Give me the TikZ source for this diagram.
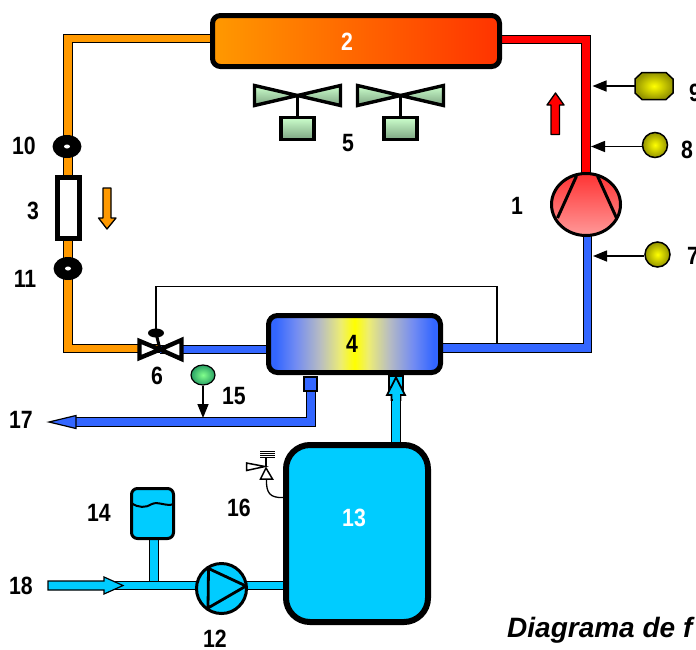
\documentclass[tikz,border=0pt]{standalone}
\usepackage{fontspec}
\setmainfont{Liberation Sans}
\usetikzlibrary{arrows.meta,shapes.geometric}
\pgfdeclarelayer{back}
\pgfsetlayers{back,main}
\definecolor{hotred}{RGB}{255,0,0}
\definecolor{warmorange}{RGB}{255,153,0}
\definecolor{deeporange}{RGB}{255,51,0}
\definecolor{coldblue}{RGB}{51,102,255}
\definecolor{watercyan}{RGB}{0,204,255}
\definecolor{fanlight}{RGB}{204,255,204}
\definecolor{fandark}{RGB}{125,165,130}
\pgfdeclarehorizontalshading{hxshade}{100bp}{
  rgb(0bp)=(.2,.4,1); rgb(27bp)=(.2,.4,1); rgb(33bp)=(.45,.55,.95); rgb(40bp)=(.72,.74,.76);
  rgb(46bp)=(.93,.93,.45); rgb(50bp)=(1,1,0);
  rgb(54bp)=(.93,.93,.45); rgb(60bp)=(.72,.74,.76); rgb(67bp)=(.45,.55,.95); rgb(73bp)=(.2,.4,1); rgb(100bp)=(.2,.4,1)}
\tikzset{
  pipe/.style={draw=black,line width=1pt,double=#1,double distance=7.6pt},
  tag/.style={inner sep=0pt,font=\bfseries\fontsize{25}{25}\selectfont,xscale=.85,transform shape},
  sensor/.style={circle,draw=black,line width=1.5pt,minimum size=25pt,inner sep=0pt,inner color=yellow,outer color=yellow!58!black},
  feeler/.style={line width=1.5pt,-{Triangle[length=14pt,width=11pt]}},
  bigbox/.style={rectangle,draw=black,rounded corners=#1,inner sep=0pt},
  ringmark/.style={ellipse,fill=black,minimum width=29pt,minimum height=23pt,inner sep=0pt},
  holemark/.style={ellipse,fill=white,minimum width=6pt,minimum height=4pt,inner sep=0pt},
  blade/.style={draw=black,line width=3.4pt,top color=fanlight,bottom color=fandark,miter limit=6},
  stub/.style={rectangle,draw=black,line width=2.6pt,fill=#1,minimum width=13pt,minimum height=14pt,inner sep=0pt}
}
\begin{document}
\begin{tikzpicture}[x=1pt,y=-1pt]
\useasboundingbox (0,0) rectangle (696,649);
\clip (0,0) rectangle (696,649);

\node (cond) [bigbox=8pt,line width=5pt,minimum width=287pt,minimum height=51pt,left color=warmorange,right color=deeporange] at (356,41) {};
\node (hx) [bigbox=9pt,line width=5pt,minimum width=172pt,minimum height=57pt,shading=hxshade] at (354.5,344) {};
\node (tank) [bigbox=24pt,line width=6pt,minimum width=142pt,minimum height=177pt,fill=watercyan] at (357,533.5) {};
\node (comp) [ellipse,draw=black,line width=3pt,minimum width=69pt,minimum height=62pt,inner sep=0pt,top color=red!80!white,bottom color=red!40!white] at (586,204.5) {};
\node (pump) [circle,draw=black,line width=3pt,minimum size=50pt,inner sep=0pt,fill=watercyan] at (221.5,588.5) {};
\node (vessel) [bigbox=6pt,line width=3pt,minimum width=42pt,minimum height=50pt,fill=watercyan] at (152.5,513.5) {};
\node (filter) [rectangle,draw=black,line width=5pt,fill=white,minimum width=22pt,minimum height=61pt,inner sep=0pt] at (68.5,208) {};
\node (ringA) [ringmark] at (67,146.5) {};
\node (holeA) [holemark] at (67,146.5) {};
\node (ringB) [ringmark] at (68,268.5) {};
\node (holeB) [holemark] at (68,268.5) {};
\node (valve) [inner sep=0pt] at (160,349.5) {};
\node (knob) [ellipse,fill=black,minimum width=16pt,minimum height=9pt,inner sep=0pt] at (156,333) {};
\node (drain) [stub=coldblue] at (310.5,384) {};
\node (inlet) [stub=watercyan,minimum width=14pt] at (396,383) {};

\coordinate (condL) at (68,38.5);
\coordinate (valveL) at (68,348.5);
\coordinate (condR) at (586,39.5);
\coordinate (compB) at (587.5,348);
\coordinate (drainB) at (311,422);
\coordinate (outEnd) at (76,422);
\coordinate (feedIn) at (48,585.5);
\coordinate (tapA) at (154,585.5);
\coordinate (feedOut) at (283,585.5);
\coordinate (bulbEnd) at (203,418);
\coordinate (linkA) at (156,286.5);
\coordinate (linkB) at (497,286.5);
\coordinate (linkC) at (497,344);

\begin{pgfonlayer}{back}
\draw[pipe=warmorange] (condL -| cond.center) -- (condL) -- (valveL) -- (valveL -| valve.center);
\draw[pipe=hotred] (condR -| cond.center) -- (condR) -- (comp.center);
\draw[pipe=coldblue] (comp.center -| compB) -- (compB) -- (compB -| hx.center);
\draw[pipe=coldblue] (valve.center) -- (valve.center -| hx.center);
\draw[pipe=coldblue] (drain.center -| drainB) -- (drainB) -- (outEnd);
\draw[pipe=watercyan] (inlet.center) -- (tank.center -| inlet.center);
\draw[pipe=watercyan] (vessel.center -| tapA) -- (tapA);
\draw[pipe=watercyan] (feedIn) -- (feedOut);
\end{pgfonlayer}

% compressor blades
\draw[line width=3pt] (576.5,176) -- (557.5,218);
\draw[line width=3pt] (597.5,176) -- (616.5,218);
% pump
\draw[line width=2.8pt,line join=round] (208.5,568.5) -- (246,586) -- (208,608) -- cycle;
% vessel water
\draw[line width=2pt] (131.5,503) .. controls (138,508) and (146,508) .. (152,504) .. controls (158,501) and (167,507) .. (173.5,504);
% outlet arrow
\draw[line width=1.2pt,fill=coldblue] (49,422) -- (76,415.5) -- (76,428.5) -- cycle;
\fill[coldblue] (153.5,417.5) rectangle (158.5,426);
% inlet arrow
\draw[line width=1.8pt,fill=watercyan] (396,377.5) -- (405,395) -- (400.5,395) -- (400.5,400) -- (391.5,400) -- (391.5,395) -- (387,395) -- cycle;
\fill[watercyan] (392.5,394) rectangle (399.5,402);
% feed arrow
\draw[line width=1.2pt,fill=watercyan] (123,585.5) -- (104,577) -- (104,581) -- (48,581) -- (48,590) -- (104,590) -- (104,594) -- cycle;
% flow arrows
\draw[line width=1.3pt,fill=warmorange,line join=round] (103,188) -- (111,188) -- (111,218) -- (116,218) -- (107,229) -- (98.5,218) -- (103,218) -- cycle;
\draw[line width=1.3pt,fill=hotred,line join=round] (551,134.5) -- (559.5,134.5) -- (559.5,105) -- (564,105) -- (555.5,93) -- (547,105) -- (551,105) -- cycle;
% expansion valve
\draw[line width=3pt] (knob.center) -- (valve.center);
\draw[line width=4.4pt,fill=white,miter limit=6] (139.5,341) -- (160,349.5) -- (139.5,358) -- cycle;
\draw[line width=4.4pt,fill=white,miter limit=6] (181.5,340) -- (160,349.5) -- (181.5,359) -- cycle;
\draw[line width=1.2pt] (knob.center) -- (linkA) -- (linkB) -- (linkC);
% fans
\foreach \fanx in {297.5,400.5}{
  \draw[line width=3.2pt] (\fanx,95) -- (\fanx,120);
  \draw[blade] (\fanx-43,85.5) -- (\fanx,95.5) -- (\fanx-43,105.5) -- cycle;
  \draw[blade] (\fanx+43,85.5) -- (\fanx,95.5) -- (\fanx+43,105.5) -- cycle;
  \draw[blade] (\fanx-16.5,117.5) rectangle (\fanx+16.5,139.5);
}
% relief valve
\draw[line width=1.3pt] (266.5,479) .. controls (266,493) and (270,498) .. (283,497.5);
\draw[line width=1.5pt,fill=white] (266,468) -- (260.5,479) -- (272.5,479) -- cycle;
\draw[line width=1.5pt,fill=white] (265,466.5) -- (246.5,463) -- (246.5,470.5) -- cycle;
\draw[line width=1.3pt] (266,457) -- (266,467);
\foreach \springy in {451.5,453.5,455.5,457.5}
  \draw[line width=1.5pt] (260,\springy) -- (274.5,\springy);

% sensors
\coordinate (octoW) at (635,86);
\draw[line width=1.5pt,inner color=yellow,outer color=yellow!58!black] (635,79) -- (642,72.5) -- (666,72.5) -- (673,79) -- (673,93) -- (666,99.5) -- (642,99.5) -- (635,93) -- cycle;
\node (gaugeB) [sensor] at (655,145) {};
\node (gaugeC) [sensor] at (657.5,254.5) {};
\node (bulb) [ellipse,draw=black,line width=1.2pt,minimum width=24pt,minimum height=20pt,inner sep=0pt,inner color={rgb,255:red,130;green,255;blue,140},outer color={rgb,255:red,40;green,160;blue,100}] at (203,375) {};
\coordinate (octoTip) at (592.5,86);
\coordinate (gaugeBTip) at (591,146.5);
\coordinate (gaugeCTip) at (593,256);
\draw[feeler] (octoW) -- (octoTip);
\draw[feeler] (gaugeB.west |- gaugeBTip) -- (gaugeBTip);
\draw[feeler] (gaugeC.west |- gaugeCTip) -- (gaugeCTip);
\draw[feeler] (bulb.south) -- (bulbEnd);

% labels
\node (lab1) [tag] at (517,206) {1};
\node (lab2) [tag,text=white] at (347,42) {2};
\node (lab3) [tag] at (33,211) {3};
\node (lab4) [tag] at (352,344) {4};
\node (lab5) [tag] at (348,143) {5};
\node (lab6) [tag] at (157,376) {6};
\node (lab7) [tag] at (693,256) {7};
\node (lab8) [tag] at (687,150) {8};
\node (lab9) [tag] at (695,93) {9};
\node (lab10) [tag] at (24,146) {10};
\node (lab11) [tag] at (25,279) {11};
\node (lab12) [tag] at (215,639) {12};
\node (lab13) [tag,text=white] at (354,518) {13};
\node (lab14) [tag] at (99,513) {14};
\node (lab15) [tag] at (234,396) {15};
\node (lab16) [tag] at (239,508) {16};
\node (lab17) [tag] at (21,420) {17};
\node (lab18) [tag] at (21,586) {18};
\node (caption) [anchor=base west,inner sep=0pt,font=\bfseries\itshape\fontsize{28}{28}\selectfont] at (507,637.5) {Diagrama de f};
\end{tikzpicture}
\end{document}
